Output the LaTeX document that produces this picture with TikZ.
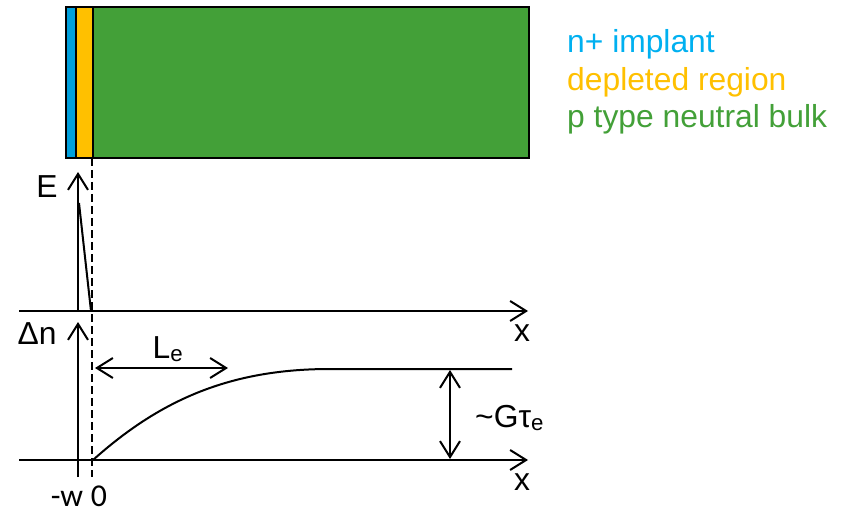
\documentclass[tikz,border=0pt]{standalone}
\usepackage{fontspec}
\setmainfont{Liberation Sans}
\newfontfamily\calib{Carlito}
\usetikzlibrary{arrows.meta}
\definecolor{implblue}{RGB}{0,160,220}
\definecolor{impltext}{RGB}{0,176,240}
\definecolor{deplor}{RGB}{255,192,0}
\definecolor{bulkgreen}{RGB}{67,160,56}
\tikzset{
  every node/.style={inner sep=0pt, font=\fontsize{31.8}{36}\selectfont},
  layer/.style={draw=black, line width=2pt},
  axisline/.style={line width=2pt, -{Straight Barb[length=16pt,width=20pt,line width=2pt]}},
  dimline/.style={line width=2pt, {Straight Barb[length=16pt,width=20pt,line width=2pt]}-{Straight Barb[length=16pt,width=20pt,line width=2pt]}},
  plain/.style={line width=2pt},
  guide/.style={line width=1.8pt, dash pattern=on 8pt off 4pt},
  legend/.style={anchor=base west},
  lbl/.style={anchor=base}
}
\begin{document}
\begin{tikzpicture}[x=1pt,y=-1pt]
\useasboundingbox (0,0) rectangle (848,513);
% layers
\fill[implblue] (66,7) rectangle (76,158);
\fill[deplor] (76,7) rectangle (93,158);
\fill[bulkgreen] (93,7) rectangle (529,158);
\draw[layer] (66,7) rectangle (529,158);
\draw[layer] (76,7) -- (76,158);
\draw[layer] (93,7) -- (93,158);
% legend
\node[legend, text=impltext] (l1) at (567,53) {n+ implant};
\node[legend, text=deplor] (l2) at (567,91) {depleted region};
\node[legend, text=bulkgreen] (l3) at (567,128) {p type neutral bulk};
% dashed guide
\coordinate (dtop) at (92,158);
\coordinate (dbot) at (92,477);
\draw[guide] (dtop) -- (dbot);
% E field plot
\coordinate (Eo) at (78,311);
\coordinate (Et) at (78,172);
\coordinate (Ax1s) at (19,311);
\coordinate (Ax1e) at (528,311);
\draw[axisline] (Ax1s) -- (Ax1e);
\draw[axisline] (Eo) -- (Et);
\coordinate (Ep) at (79,203);
\coordinate (Ez) at (91,311);
\draw[plain] (Ep) -- (Ez);
\node[lbl] (Elab) at (47,197) {E};
\node[lbl] (x1) at (522,341) {x};
% Delta n plot
\coordinate (Ax2s) at (19,460);
\coordinate (Ax2e) at (528,460);
\coordinate (Nb) at (78,477);
\coordinate (Nt) at (78,322);
\draw[axisline] (Ax2s) -- (Ax2e);
\draw[axisline] (Nb) -- (Nt);
\node[lbl] (Nlab) at (37,344) {Δn};
\node[lbl] (x2) at (522,490) {x};
\coordinate (c0) at (93,460);
\coordinate (c1) at (330,369);
\coordinate (c2) at (512,369);
\draw[plain] (c0) .. controls (160,400) and (230,369) .. (c1) -- (c2);
% Le
\coordinate (Le1) at (95,368);
\coordinate (Le2) at (228,368);
\draw[dimline] (Le1) -- (Le2);
\node[lbl] (Lelab) at (168,358) {L\textsubscript{e}};
% G tau
\coordinate (G1) at (450,370);
\coordinate (G2) at (450,459);
\draw[dimline] (G1) -- (G2);
\node[anchor=base west] (Glab) at (475,427) {\textasciitilde Gτ\textsubscript{e}};
% ticks
\node[lbl] (w) at (67,506) {\calib -w};
\node[lbl] (zero) at (99,506) {\calib 0};
\end{tikzpicture}
\end{document}
